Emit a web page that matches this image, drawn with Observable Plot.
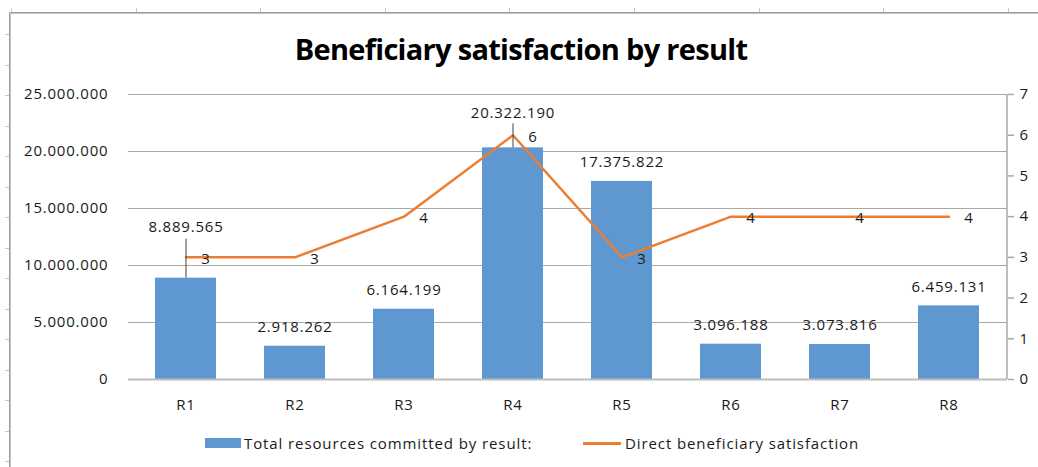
<!DOCTYPE html>
<html>
<head>
<meta charset="utf-8">
<script src="https://cdn.jsdelivr.net/npm/d3@7"></script>
<script src="https://cdn.jsdelivr.net/npm/@observablehq/plot@0.6"></script>
<style>
  html, body { margin: 0; padding: 0; background: #fff; }
  body { width: 1038px; height: 467px; overflow: hidden; position: relative; font-family: "Open Sans", sans-serif; color: #1a1a1a; }
  #frameTop { position: absolute; left: 10px; top: 12px; width: 1028px; height: 0; border-top: 1px solid #9c9c9c; border-bottom: 1px solid #c4c4c4; }
  #frameLeft { position: absolute; left: 9px; top: 12px; width: 0; height: 455px; border-left: 1px solid #9c9c9c; border-right: 1px solid #c4c4c4; }
  #ticksTop { position: absolute; left: 11px; top: 8px; width: 1027px; height: 4px; background: repeating-linear-gradient(to right, #c8c8c8 0 1px, transparent 1px 124.6px); }
  #ticksLeft { position: absolute; left: 5px; top: 34px; width: 4px; height: 433px; background: repeating-linear-gradient(to bottom, #c8c8c8 0 1px, transparent 1px 30.5px); }
  #title { position: absolute; left: 0; top: 34px; width: 1042px; text-align: center; font-size: 29px; line-height: 29px; font-weight: 700; letter-spacing: -0.7px; color: #000; }
  #chart { position: absolute; left: 0; top: 80px; }
  .leg { position: absolute; top: 433px; font-size: 15px; line-height: 20px; letter-spacing: 0.9px; color: #1a1a1a; white-space: nowrap; }
  .sw { position: absolute; }
</style>
</head>
<body>
<div id="frameTop"></div>
<div id="frameLeft"></div>
<div id="ticksTop"></div>
<div id="ticksLeft"></div>
<div id="title">Beneficiary satisfaction by result</div>
<div id="chart"></div>
<div id="legend"></div>
<script>
// ---- data ----
const categories = ["R1", "R2", "R3", "R4", "R5", "R6", "R7", "R8"];
const resources = [8889565, 2918262, 6164199, 20322190, 17375822, 3096188, 3073816, 6459131];
const satisfaction = [3, 3, 4, 6, 3, 4, 4, 4];
const leftTicks = [0, 5000000, 10000000, 15000000, 20000000, 25000000];
const rightTicks = [0, 1, 2, 3, 4, 5, 6, 7];
const seriesNames = ["Total resources committed by result:", "Direct beneficiary satisfaction"];

// ---- helpers ----
const Y_MAX = 25000000, S_MAX = 7;
const toY = s => s * Y_MAX / S_MAX;
const fmt = d3.formatLocale({decimal: ",", thousands: ".", grouping: [3], currency: ["", ""]}).format(",d");
const rows = categories.map((c, i) => ({cat: c, res: resources[i], sat: satisfaction[i]}));
const BLUE = "#5f97d0", ORANGE = "#ed7d31", GRID = "#a9a9a9";
// labels that Excel moved up with a leader line
const lifted = {R1: {dy: -51, lead: 39}, R4: {dy: -35, lead: 24}};

function rightFrame(index, scales, values, dims) {
  const x = dims.width - dims.marginRight;
  return d3.create("svg:line")
    .attr("x1", x).attr("x2", x)
    .attr("y1", dims.marginTop).attr("y2", dims.height - dims.marginBottom)
    .attr("stroke", GRID).attr("stroke-width", 1.5).node();
}

const marks = [
  Plot.ruleY(leftTicks.filter(d => d > 0), {stroke: GRID, strokeWidth: 1.2}),
  Plot.barY(rows, {x: "cat", y: "res", fill: BLUE}),
  Plot.ruleY([0], {stroke: "#bdbdbd", strokeWidth: 2}),
  rightFrame,
  Plot.axisX({tickSize: 0, tickPadding: 20, fontSize: 15, label: null}),
  Plot.axisY({ticks: leftTicks, tickFormat: fmt, tickSize: 0, tickPadding: 20, fontSize: 15, label: null}),
  Plot.axisY({anchor: "right", ticks: rightTicks.map(toY), tickFormat: d => String(Math.round(d * S_MAX / Y_MAX)),
              tickSize: 6, tickPadding: 6, stroke: GRID, strokeWidth: 1.5, fontSize: 15, label: null}),
  Plot.line(rows, {x: "cat", y: d => toY(d.sat), stroke: ORANGE, strokeWidth: 2.5}),
  Plot.text(rows, {x: "cat", y: d => toY(d.sat), text: d => String(d.sat), dx: 20, dy: 2, fontSize: 15}),
  Plot.text(rows.filter(d => !lifted[d.cat]), {x: "cat", y: "res", text: d => fmt(d.res), dy: -19, fontSize: 15})
];
for (const [cat, o] of Object.entries(lifted)) {
  const r = rows.filter(d => d.cat === cat);
  marks.push(Plot.text(r, {x: "cat", y: "res", text: d => fmt(d.res), dy: o.dy, fontSize: 15}));
  marks.push(Plot.ruleX(r, {x: "cat", y1: "res", y2: "res", insetTop: -o.lead, stroke: "#404040", strokeWidth: 1}));
}

const chart = Plot.plot({
  width: 1038,
  height: 339,
  marginTop: 14,
  marginBottom: 40,
  marginLeft: 128,
  marginRight: 31,
  style: {fontFamily: "Open Sans, sans-serif", fontSize: "15px", color: "#1a1a1a", background: "transparent", letterSpacing: "0.8px"},
  x: {domain: categories, paddingInner: 0.44, paddingOuter: 0.22, axis: null},
  y: {domain: [0, Y_MAX], axis: null},
  marks
});
document.getElementById("chart").appendChild(chart);

// ---- legend ----
const legend = document.getElementById("legend");
legend.innerHTML =
  `<div class="sw" style="left:205px;top:438px;width:36px;height:10px;background:${BLUE}"></div>` +
  `<div class="leg" style="left:244px">${seriesNames[0]}</div>` +
  `<div class="sw" style="left:583px;top:442px;width:38px;height:2.5px;background:${ORANGE}"></div>` +
  `<div class="leg" style="left:625px">${seriesNames[1]}</div>`;
</script>
</body>
</html>
